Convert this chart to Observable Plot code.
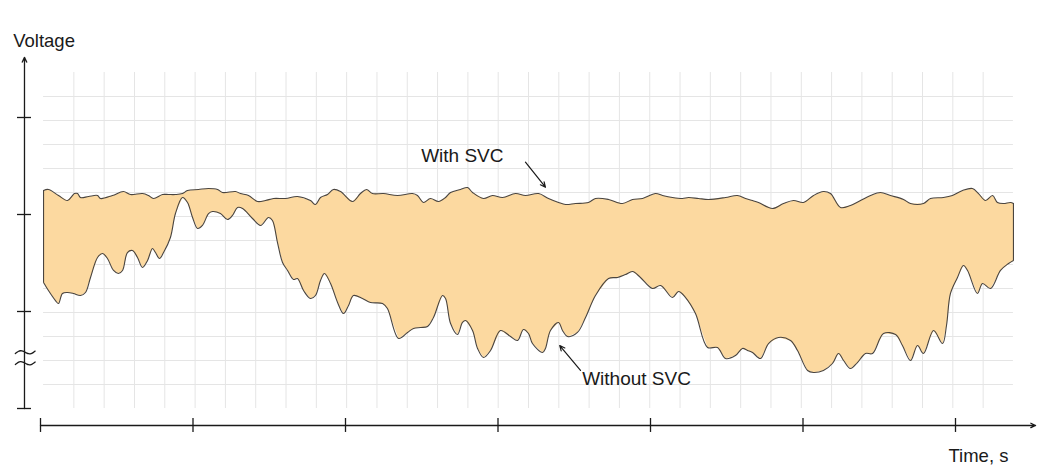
<!DOCTYPE html>
<html><head><meta charset="utf-8">
<script src="https://cdn.jsdelivr.net/npm/d3@7"></script>
<script src="https://cdn.jsdelivr.net/npm/@observablehq/plot@0.6"></script>
<style>html,body{margin:0;padding:0;background:#fff;}</style>
</head><body><div id="chart"></div>
<script>
// [time (s), voltage (arb. units)]
const withSVC = [
[0.020,2.247],[0.052,2.258],[0.118,2.196],[0.177,2.144],[0.210,2.196],[0.223,2.216],[0.243,2.216],[0.262,2.175],
[0.315,2.186],[0.374,2.196],[0.393,2.165],[0.472,2.196],[0.544,2.237],[0.590,2.206],[0.669,2.216],[0.708,2.196],
[0.741,2.165],[0.800,2.206],[0.839,2.206],[0.885,2.206],[0.931,2.216],[0.964,2.247],[1.036,2.258],[1.102,2.268],
[1.161,2.258],[1.193,2.227],[1.279,2.237],[1.311,2.216],[1.364,2.196],[1.423,2.134],[1.475,2.144],[1.528,2.165],
[1.607,2.165],[1.685,2.186],[1.770,2.144],[1.803,2.103],[1.836,2.175],[1.882,2.206],[1.921,2.258],[1.967,2.237],
[2.046,2.134],[2.098,2.216],[2.138,2.258],[2.177,2.216],[2.249,2.216],[2.341,2.196],[2.439,2.216],[2.472,2.196],
[2.511,2.124],[2.557,2.165],[2.610,2.134],[2.656,2.175],[2.689,2.227],[2.754,2.258],[2.800,2.278],[2.833,2.227],
[2.905,2.165],[2.964,2.196],[3.030,2.175],[3.115,2.216],[3.180,2.196],[3.266,2.216],[3.331,2.165],[3.397,2.124],
[3.443,2.103],[3.508,2.113],[3.593,2.124],[3.639,2.165],[3.725,2.155],[3.816,2.113],[3.882,2.155],[3.948,2.165],
[4.033,2.216],[4.079,2.196],[4.144,2.175],[4.210,2.165],[4.249,2.175],[4.315,2.165],[4.380,2.155],[4.492,2.175],
[4.570,2.196],[4.623,2.165],[4.669,2.144],[4.708,2.124],[4.800,2.062],[4.872,2.113],[4.938,2.144],[5.003,2.124],
[5.069,2.196],[5.134,2.237],[5.180,2.216],[5.246,2.072],[5.311,2.093],[5.377,2.144],[5.443,2.196],[5.508,2.227],
[5.574,2.196],[5.659,2.155],[5.705,2.113],[5.790,2.113],[5.836,2.165],[5.921,2.175],[5.980,2.196],[6.046,2.247],
[6.111,2.268],[6.151,2.216],[6.197,2.144],[6.243,2.196],[6.275,2.124],[6.315,2.113],[6.361,2.124],[6.380,2.113]
];
const withoutSVC = [
[0.020,1.299],[0.052,1.216],[0.098,1.113],[0.118,1.082],[0.144,1.186],[0.177,1.196],[0.216,1.186],[0.262,1.165],
[0.295,1.196],[0.328,1.351],[0.374,1.557],[0.407,1.598],[0.439,1.546],[0.479,1.423],[0.511,1.392],[0.538,1.423],
[0.570,1.608],[0.603,1.629],[0.636,1.557],[0.669,1.454],[0.702,1.526],[0.734,1.649],[0.754,1.608],[0.780,1.546],
[0.807,1.608],[0.852,1.763],[0.885,2.010],[0.931,2.175],[0.964,2.124],[0.997,1.969],[1.030,1.856],[1.062,1.887],
[1.102,2.010],[1.128,2.031],[1.180,2.010],[1.226,1.948],[1.259,1.990],[1.292,2.072],[1.325,2.062],[1.390,1.959],
[1.443,1.887],[1.495,1.969],[1.521,1.938],[1.554,1.711],[1.587,1.505],[1.620,1.423],[1.659,1.330],[1.685,1.340],
[1.725,1.216],[1.770,1.134],[1.803,1.165],[1.836,1.320],[1.862,1.392],[1.902,1.289],[1.948,1.093],[1.987,0.979],
[2.020,1.062],[2.052,1.165],[2.111,1.134],[2.164,1.093],[2.243,1.082],[2.275,1.031],[2.348,0.722],[2.407,0.784],
[2.446,0.825],[2.492,0.835],[2.538,0.845],[2.577,0.938],[2.636,1.165],[2.656,1.134],[2.689,0.876],[2.734,0.763],
[2.767,0.887],[2.787,0.907],[2.833,0.804],[2.866,0.619],[2.905,0.526],[2.951,0.598],[3.016,0.804],[3.082,0.742],
[3.128,0.701],[3.167,0.814],[3.200,0.773],[3.226,0.670],[3.292,0.577],[3.311,0.619],[3.344,0.804],[3.397,0.887],
[3.423,0.804],[3.456,0.742],[3.521,0.784],[3.574,0.938],[3.639,1.165],[3.725,1.340],[3.784,1.351],[3.836,1.381],
[3.882,1.412],[3.934,1.351],[4.013,1.237],[4.066,1.268],[4.144,1.144],[4.184,1.206],[4.230,1.144],[4.295,0.979],
[4.374,0.629],[4.439,0.629],[4.492,0.515],[4.557,0.546],[4.603,0.619],[4.636,0.598],[4.669,0.577],[4.721,0.515],
[4.774,0.670],[4.839,0.732],[4.918,0.701],[4.964,0.598],[5.030,0.392],[5.069,0.371],[5.134,0.392],[5.193,0.464],
[5.233,0.567],[5.266,0.495],[5.311,0.412],[5.357,0.474],[5.410,0.567],[5.456,0.567],[5.528,0.773],[5.607,0.763],
[5.652,0.649],[5.705,0.495],[5.751,0.649],[5.790,0.567],[5.856,0.804],[5.915,0.670],[5.941,0.856],[5.967,1.186],
[6.013,1.351],[6.052,1.474],[6.079,1.423],[6.144,1.186],[6.177,1.289],[6.230,1.237],[6.295,1.423],[6.348,1.495],
[6.380,1.526]
];
const timeTicks = [0, 1, 2, 3, 4, 5, 6];
const voltTicks = [0, 1, 2, 3];
const axisLabels = [
  {t: -0.179, v: 3.785, text: "Voltage"},
  {t: 5.954, v: -0.494, text: "Time, s"}
];
const seriesLabels = [
  {t: 2.496, v: 2.602, text: "With SVC"},
  {t: 3.552, v: 0.300, text: "Without SVC"}
];
const pointers = [
  {t1: 3.180, v1: 2.539, t2: 3.311, v2: 2.281},
  {t1: 3.541, v1: 0.392, t2: 3.405, v2: 0.649}
];

// axis geometry (data units)
const yAxisT = -0.105, xAxisV = -0.175, xAxisEnd = 6.525, yAxisEnd = 3.62;
const breakLevels = [0.577, 0.464];

// region between curves: upper left->right, lower right->left
const band = withSVC.concat(withoutSVC.slice().reverse());
const first = 0, lastU = withSVC.length - 1, lastL = withoutSVC.length - 1;

// graph-paper grid spanning the recorded interval
const t0 = withSVC[0][0], t1 = withSVC[lastU][0];
const gridTop = 3.464;
const gridX = d3.range(1, 32).map(k => t0 + (t1 - t0) * k / 32);
const gridY = d3.range(1, 14).map(k => gridTop * k / 14);

// axis-break squiggles
const squiggles = [];
breakLevels.forEach((b, i) => {
  d3.range(0, 13).forEach(j => {
    const u = j / 12;
    squiggles.push({g: i, t: -0.165 + 0.13 * u, v: b - 0.01 + 0.025 * u + 0.022 * Math.sin(u * 2 * Math.PI)});
  });
});

const ink = "#1a1a1a", edge = "#4a4540";
const chart = Plot.plot({
  width: 1049, height: 471,
  marginLeft: 40, marginRight: 17.75, marginTop: 68.5, marginBottom: 63,
  x: {domain: [0, 6.5], axis: null},
  y: {domain: [0, 3.5], axis: null},
  style: {fontFamily: "'Liberation Sans', Arial, Helvetica, sans-serif", background: "#fff", overflow: "visible"},
  marks: [
    Plot.ruleX(gridX, {y1: 0, y2: gridTop, stroke: "#e5e5e5", strokeWidth: 1}),
    Plot.ruleY(gridY, {x1: t0, x2: t1, stroke: "#e5e5e5", strokeWidth: 1}),
    Plot.line(band, {x: d => d[0], y: d => d[1], curve: "linear", fill: "#fcd9a0", stroke: "none"}),
    Plot.line(withSVC, {x: d => d[0], y: d => d[1], curve: "catmull-rom", stroke: edge, strokeWidth: 1.1}),
    Plot.line(withoutSVC, {x: d => d[0], y: d => d[1], curve: "catmull-rom", stroke: edge, strokeWidth: 1.1}),
    Plot.ruleX([t0], {y1: withoutSVC[first][1], y2: withSVC[first][1], stroke: edge, strokeWidth: 1.1}),
    Plot.ruleX([t1], {y1: withoutSVC[lastL][1], y2: withSVC[lastU][1], stroke: edge, strokeWidth: 1.1}),
    // y axis
    Plot.arrow([0], {x1: yAxisT, x2: yAxisT, y1: 0, y2: yAxisEnd, stroke: ink, strokeWidth: 1.3, headLength: 6, headAngle: 50}),
    Plot.ruleY(voltTicks, {x1: yAxisT - 0.046, x2: yAxisT + 0.046, stroke: ink, strokeWidth: 1.3}),
    Plot.line(squiggles, {x: "t", y: "v", z: "g", curve: "natural", stroke: ink, strokeWidth: 1.3}),
    // x axis
    Plot.arrow([0], {x1: 0, x2: xAxisEnd, y1: xAxisV, y2: xAxisV, stroke: ink, strokeWidth: 1.3, headLength: 6, headAngle: 50}),
    Plot.ruleX(timeTicks, {y1: xAxisV - 0.072, y2: xAxisV + 0.072, stroke: ink, strokeWidth: 1.3}),
    // labels
    Plot.text(axisLabels, {x: "t", y: "v", text: "text", textAnchor: "start", fontSize: 18.5, fill: ink}),
    Plot.text(seriesLabels, {x: "t", y: "v", text: "text", textAnchor: "start", fontSize: 19, fill: ink}),
    Plot.arrow(pointers, {x1: "t1", y1: "v1", x2: "t2", y2: "v2", stroke: ink, strokeWidth: 1.2, headLength: 7, headAngle: 50})
  ]
});
document.getElementById("chart").appendChild(chart);
</script>
</body></html>
